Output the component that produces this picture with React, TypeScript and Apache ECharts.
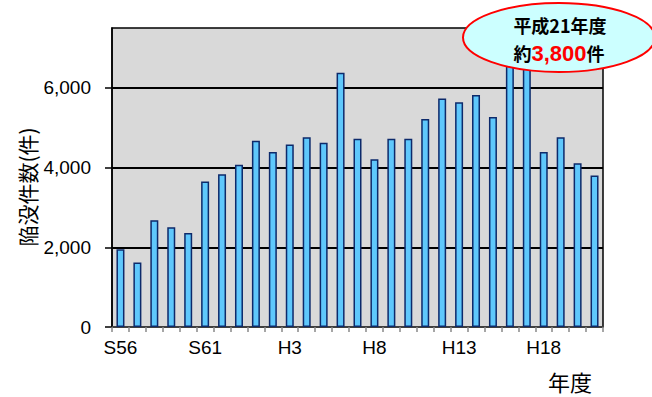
import React, { useEffect, useRef } from "react";
import * as echarts from "echarts";

// Fiscal years, Showa 56 to Heisei 21
const years: string[] = [
  "S56", "S57", "S58", "S59", "S60", "S61", "S62", "S63",
  "H1", "H2", "H3", "H4", "H5", "H6", "H7", "H8", "H9", "H10",
  "H11", "H12", "H13", "H14", "H15", "H16", "H17", "H18", "H19", "H20", "H21",
];

// Number of road cave-ins per year
const caveIns: number[] = [
  1950, 1620, 2680, 2500, 2360, 3650, 3830, 4070,
  4670, 4390, 4580, 4760, 4620, 6380, 4720, 4210, 4720, 4720,
  5220, 5730, 5640, 5820, 5270, 6600, 6700, 4390, 4760, 4110, 3800,
];

const yTicks: number[] = [0, 2000, 4000, 6000];

const LATIN = "'Liberation Sans', Arial, 'Noto Sans CJK JP', sans-serif";
const CJK = "'Noto Sans CJK JP', 'Liberation Sans', sans-serif";

export default function App() {
  const ref = useRef<HTMLDivElement>(null);

  useEffect(() => {
    if (!ref.current) return;
    const chart = echarts.init(ref.current, undefined, { renderer: "svg" });
    const last = caveIns[caveIns.length - 1];

    chart.setOption({
      animation: false,
      grid: {
        left: 112,
        right: 49,
        top: 28,
        bottom: 70,
        show: true,
        backgroundColor: "#d9d9d9",
        borderColor: "#000",
        borderWidth: 1.5,
      },
      xAxis: {
        type: "category",
        data: years,
        boundaryGap: true,
        axisLine: { lineStyle: { color: "#555", width: 1.5 } },
        axisTick: { show: true, interval: 0, length: 5, lineStyle: { color: "#888", width: 1.5 } },
        axisLabel: {
          interval: 4,
          margin: 11,
          color: "#000",
          fontSize: 19,
          fontFamily: LATIN,
        },
      },
      yAxis: {
        type: "value",
        min: 0,
        max: 7500,
        interval: 2000,
        axisLine: { show: true, lineStyle: { color: "#000", width: 1.5 } },
        axisTick: { show: true, length: 7, customValues: yTicks, lineStyle: { color: "#000", width: 1.5 } },
        splitLine: { show: true, lineStyle: { color: "#000", width: 2 } },
        axisLabel: {
          customValues: yTicks,
          margin: 21,
          color: "#000",
          fontSize: 19,
          fontFamily: LATIN,
          formatter: (v: number) => v.toLocaleString("en-US"),
        },
      },
      series: [
        {
          type: "bar",
          data: caveIns,
          barWidth: 8,
          itemStyle: {
            color: "#5fc8fc",
            borderColor: "#0d2a6b",
            borderWidth: 1.5,
          },
        },
      ],
      graphic: [
        {
          type: "text",
          x: 27,
          y: 187,
          rotation: Math.PI / 2,
          style: {
            text: "陥没件数(件)",
            fontSize: 21,
            fontFamily: CJK,
            fill: "#000",
            align: "center",
            verticalAlign: "middle",
          },
        },
        {
          type: "text",
          x: 570,
          y: 381,
          style: {
            text: "年度",
            fontSize: 22,
            fontFamily: CJK,
            fill: "#000",
            align: "center",
            verticalAlign: "middle",
          },
        },
        {
          type: "ellipse",
          shape: { cx: 559, cy: 37.5, rx: 96, ry: 34.5 },
          style: { fill: "#ccffff", stroke: "#ff0000", lineWidth: 2 },
          z: 100,
        },
        {
          type: "text",
          x: 560,
          y: 25,
          z: 101,
          style: {
            text: "平成21年度",
            fontSize: 18,
            fontWeight: "bold",
            fontFamily: CJK,
            fill: "#000",
            align: "center",
            verticalAlign: "middle",
          },
        },
        {
          type: "text",
          x: 559,
          y: 53,
          z: 101,
          style: {
            text: `{a|約}{b|${last.toLocaleString("en-US")}}{a|件}`,
            align: "center",
            verticalAlign: "middle",
            rich: {
              a: { fontSize: 18, fontWeight: "bold", fontFamily: CJK, fill: "#000" },
              b: { fontSize: 22, fontWeight: "bold", fontFamily: LATIN, fill: "#ff0000" },
            },
          },
        },
      ],
    });

    return () => chart.dispose();
  }, []);

  return (
    <div
      ref={ref}
      style={{ position: "absolute", left: 0, top: 0, width: 652, height: 397 }}
    />
  );
}
